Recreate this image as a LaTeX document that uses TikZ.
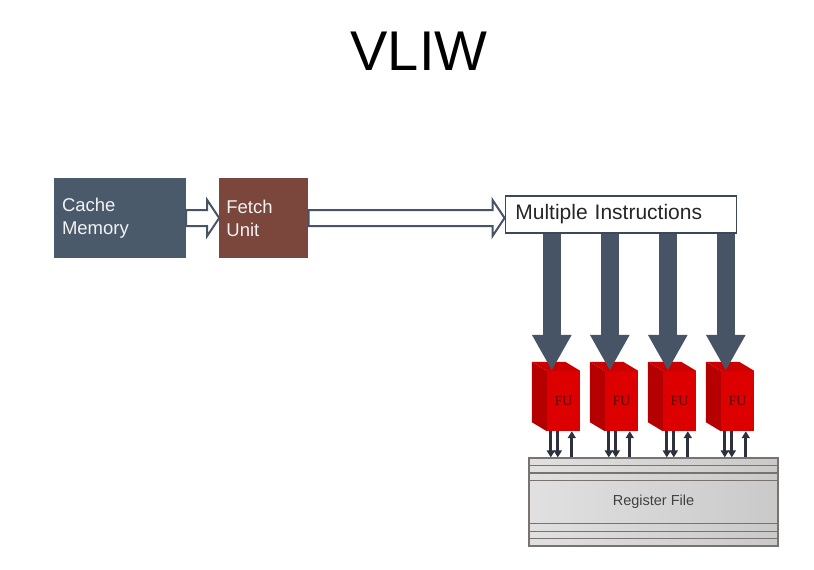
\documentclass[tikz,border=0pt]{standalone}
\usepackage{fontspec}
\setmainfont{Liberation Sans}
\newfontfamily\fuserif{Liberation Serif}
\usepackage{xcolor}
\usetikzlibrary{positioning, calc, arrows.meta}

\definecolor{slate}{HTML}{4B5A6B}
\definecolor{brick}{HTML}{7B463B}
\definecolor{arrowgray}{HTML}{475466}
\definecolor{wiregray}{HTML}{2B323D}
\definecolor{fufront}{HTML}{DD0000}
\definecolor{fuside}{HTML}{B50000}
\definecolor{futop}{HTML}{CC0000}
\definecolor{regline}{HTML}{7A726E}

\tikzset{
  unitbox/.style={inner xsep=8pt, align=left, text=white!92!slate,
    font=\fontsize{18.5}{23}\selectfont, minimum height=80pt},
  hollow/.style={draw=arrowgray, line width=2pt, fill=white, line join=miter},
  bigarrow/.style={draw=arrowgray, line width=18pt,
    -{Triangle[width=37pt, length=36pt]}},
  wire/.style={draw=wiregray, line width=3.2pt,
    -{Triangle[width=8pt, length=7pt]}},
  fubox/.style={fill=fufront, minimum width=33pt, minimum height=60pt,
    inner sep=0pt, font=\fuserif\fontsize{14}{14}\selectfont, text=red!40!black}
}

\newcommand{\hollowarrow}[2]{%
  \draw[hollow] let \p1=(#1.east), \p2=(#2.west) in
    (\x1,\y1+8pt) -- (\x2-12pt,\y1+8pt) -- (\x2-12pt,\y1+18pt) -- (\x2,\y1)
    -- (\x2-12pt,\y1-18pt) -- (\x2-12pt,\y1-8pt) -- (\x1,\y1-8pt) -- cycle;}

\begin{document}
\begin{tikzpicture}[x=1pt, y=-1pt]
    \useasboundingbox[fill=white] (0,0) rectangle (814,570);

    \node[font=\fontsize{56}{60}\selectfont] (title) at (419,51) {VLIW};

    % front end
    \node[unitbox, fill=slate, minimum width=132pt, text width=116pt] (cache) at (120,218) {Cache\\Memory};
    \node[unitbox, fill=brick, minimum width=89pt, text width=75pt, inner xsep=7pt,
          right=33pt of cache] (fetch) {Fetch\\Unit};
    \node[draw=arrowgray!85!black, line width=1.5pt, fill=white, minimum width=231pt,
          minimum height=37pt, text width=211pt, inner xsep=9pt, align=left,
          font=\fontsize{21}{24}\selectfont, text=black!85,
          right=196pt of fetch, yshift=3.5pt] (multi) {Multiple Instructions};

    \hollowarrow{cache}{fetch}
    \hollowarrow{fetch}{multi}

    % register file
    \node[draw=regline, line width=1.2pt, left color=black!12!white, right color=black!21!white,
          minimum width=249pt, minimum height=88pt, font=\fontsize{14.5}{16}\selectfont,
          text=black!75] (regfile) at (653.5,502) {Register File};
    \foreach \d in {8,15.5,23} {
        \draw[regline, line width=1.2pt] ($(regfile.north west)+(0,\d)$) -- ($(regfile.north east)+(0,\d)$);
        \draw[regline, line width=1.2pt] ($(regfile.south west)+(0,-\d)$) -- ($(regfile.south east)+(0,-\d)$);
    }

    % functional units
    \foreach \i in {1,...,4} {
        \node[fubox] (fu\i) at ({563.5+58*(\i-1)},401) {FU};
        \fill[fuside] (fu\i.north west) -- ++(-15,-9) -- ($(fu\i.south west)+(-15,-9)$) -- (fu\i.south west) -- cycle;
        \fill[futop] (fu\i.north west) -- ++(-15,-9) -- ($(fu\i.north east)+(-15,-9)$) -- (fu\i.north east) -- cycle;

        \coordinate (in\i) at ($(fu\i.north west)+(5,0)$);
        \draw[bigarrow] (multi.south -| in\i) -- (in\i);

        \coordinate (rd\i) at ($(fu\i.south west)+(4,0)$);
        \coordinate (re\i) at ($(fu\i.south west)+(11,0)$);
        \coordinate (wr\i) at ($(fu\i.south west)+(25,0)$);
        \draw[wire] (rd\i) -- (rd\i |- regfile.north);
        \draw[wire] (re\i) -- (re\i |- regfile.north);
        \draw[wire] (wr\i |- regfile.north) -- (wr\i);
    }
\end{tikzpicture}
\end{document}
